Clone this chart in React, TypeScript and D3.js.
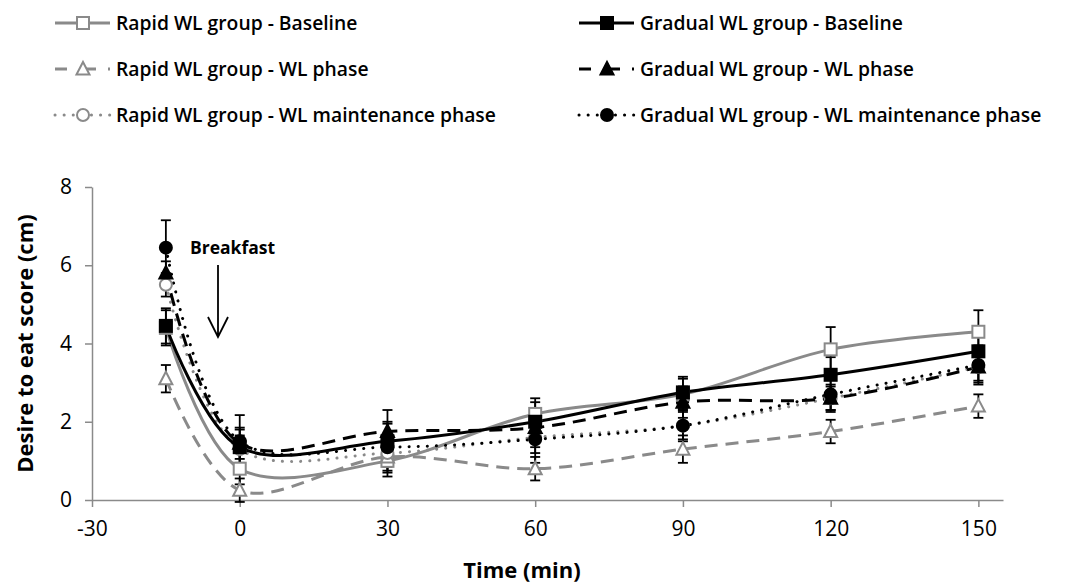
import React, { useEffect, useRef } from "react";
import * as d3 from "d3";

// time points (min)
const times = [-15, 0, 30, 60, 90, 120, 150];

// series means (cm) and SEM
const rapidBaseline = [4.4, 0.8, 1.0, 2.2, 2.7, 3.85, 4.3];
const rapidBaselineErr = [0.45, 0.4, 0.4, 0.4, 0.4, 0.57, 0.55];
const rapidWL = [3.1, 0.25, 1.1, 0.8, 1.3, 1.75, 2.4];
const rapidWLErr = [0.35, 0.3, 0.4, 0.3, 0.35, 0.3, 0.3];
const rapidMaint = [5.5, 1.3, 1.2, 1.6, 1.9, 2.6, 3.4];
const rapidMaintErr = [0.3, 0.35, 0.35, 0.4, 0.35, 0.3, 0.35];
const gradualBaseline = [4.45, 1.35, 1.5, 2.0, 2.75, 3.2, 3.8];
const gradualBaselineErr = [0.45, 0.45, 0.5, 0.5, 0.4, 0.45, 0.5];
const gradualWL = [5.8, 1.45, 1.75, 1.85, 2.5, 2.6, 3.4];
const gradualWLErr = [0.3, 0.4, 0.55, 0.5, 0.4, 0.35, 0.4];
const gradualMaint = [6.45, 1.5, 1.35, 1.55, 1.9, 2.7, 3.45];
const gradualMaintErr = [0.7, 0.67, 0.6, 0.6, 0.4, 0.4, 0.5];

const xTicks = [-30, 0, 30, 60, 90, 120, 150];
const yTicks = [0, 2, 4, 6, 8];

const GRAY = "#8a8a8a";
const FONT = "'Open Sans', sans-serif";

interface Series {
  name: string;
  values: number[];
  err: number[];
  color: string;
  dash: string;
  marker: "square" | "triangle" | "circle";
  filled: boolean;
}

const series: Series[] = [
  { name: "Rapid WL group - Baseline", values: rapidBaseline, err: rapidBaselineErr, color: GRAY, dash: "", marker: "square", filled: false },
  { name: "Rapid WL group - WL phase", values: rapidWL, err: rapidWLErr, color: GRAY, dash: "13,8", marker: "triangle", filled: false },
  { name: "Rapid WL group - WL maintenance phase", values: rapidMaint, err: rapidMaintErr, color: GRAY, dash: "0.1,9", marker: "circle", filled: false },
  { name: "Gradual WL group - Baseline", values: gradualBaseline, err: gradualBaselineErr, color: "#000", dash: "", marker: "square", filled: true },
  { name: "Gradual WL group - WL phase", values: gradualWL, err: gradualWLErr, color: "#000", dash: "13,8", marker: "triangle", filled: true },
  { name: "Gradual WL group - WL maintenance phase", values: gradualMaint, err: gradualMaintErr, color: "#000", dash: "0.1,9", marker: "circle", filled: true },
];

const width = 1067;
const height = 586;

const App: React.FC = () => {
  const ref = useRef<SVGSVGElement>(null);

  useEffect(() => {
    const svg = d3.select(ref.current);
    svg.selectAll("*").remove();

    // axis line runs a little past the 150 tick, as in the original
    const x = d3.scaleLinear().domain([-30, 155]).range([92, 1003]);
    const y = d3.scaleLinear().domain([0, 8]).range([500, 187]);

    // axes
    const gy = svg.append("g").attr("transform", `translate(${x(-30)},0)`)
      .call(d3.axisLeft(y).tickValues(yTicks).tickSize(7).tickSizeOuter(0).tickPadding(13)
        .tickFormat((d) => String(d)));
    const gx = svg.append("g").attr("transform", `translate(0,${y(0)})`)
      .call(d3.axisBottom(x).tickValues(xTicks).tickSize(7).tickSizeOuter(0).tickPadding(14)
        .tickFormat((d) => String(d)));
    [gx, gy].forEach((g) => {
      g.select(".domain").attr("stroke", GRAY).attr("stroke-width", 1.5);
      g.selectAll(".tick line").attr("stroke", GRAY).attr("stroke-width", 1.5);
      g.selectAll(".tick text").attr("font-family", FONT).attr("font-size", 21).attr("fill", "#000");
    });

    svg.append("text").attr("x", 522).attr("y", 578).attr("text-anchor", "middle")
      .attr("font-family", FONT).attr("font-weight", "bold").attr("font-size", 22).text("Time (min)");
    svg.append("text").attr("transform", `translate(33,${y(4)}) rotate(-90)`).attr("text-anchor", "middle")
      .attr("font-family", FONT).attr("font-weight", "bold").attr("font-size", 22).text("Desire to eat score (cm)");

    // lines
    const line = d3.line<number>()
      .x((_, i) => x(times[i]))
      .y((d) => y(d))
      .curve(d3.curveCatmullRom.alpha(0.5));

    series.forEach((s) => {
      svg.append("path").datum(s.values)
        .attr("fill", "none").attr("stroke", s.color).attr("stroke-width", 3)
        .attr("stroke-dasharray", s.dash || null)
        .attr("stroke-linecap", s.dash === "0.1,9" ? "round" : "butt")
        .attr("d", line);
    });

    // error bars
    series.forEach((s) => {
      s.values.forEach((v, i) => {
        const cx = x(times[i]);
        const lo = y(v - s.err[i]);
        const hi = y(v + s.err[i]);
        const g = svg.append("g").attr("stroke", "#000").attr("stroke-width", 1.8);
        g.append("line").attr("x1", cx).attr("x2", cx).attr("y1", lo).attr("y2", hi);
        g.append("line").attr("x1", cx - 5).attr("x2", cx + 5).attr("y1", lo).attr("y2", lo);
        g.append("line").attr("x1", cx - 5).attr("x2", cx + 5).attr("y1", hi).attr("y2", hi);
      });
    });

    const drawMarker = (g: d3.Selection<any, unknown, null, undefined>, s: Series, cx: number, cy: number) => {
      const fill = s.filled ? s.color : "#fff";
      if (s.marker === "square") {
        g.append("rect").attr("x", cx - 6).attr("y", cy - 6).attr("width", 12).attr("height", 12)
          .attr("fill", fill).attr("stroke", s.color).attr("stroke-width", 2);
      } else if (s.marker === "triangle") {
        g.append("path").attr("d", `M${cx},${cy - 7}L${cx + 6.5},${cy + 5.5}L${cx - 6.5},${cy + 5.5}Z`)
          .attr("fill", fill).attr("stroke", s.color).attr("stroke-width", 2);
      } else {
        g.append("circle").attr("cx", cx).attr("cy", cy).attr("r", 6)
          .attr("fill", fill).attr("stroke", s.color).attr("stroke-width", 2);
      }
    };

    // markers
    series.forEach((s) => {
      s.values.forEach((v, i) => drawMarker(svg as any, s, x(times[i]), y(v)));
    });

    // breakfast annotation
    svg.append("text").attr("x", 190).attr("y", 254).attr("font-family", FONT).attr("font-weight", "bold")
      .attr("font-size", 17.5).text("Breakfast");
    const ax = 218;
    svg.append("path").attr("d", `M${ax},265L${ax},337M${ax - 10},317L${ax},337L${ax + 10},317`)
      .attr("fill", "none").attr("stroke", "#000").attr("stroke-width", 1.8);

    // legend
    const legendPos = [
      [55, 23], [55, 69], [55, 115],
      [579, 23], [579, 69], [579, 115],
    ];
    series.forEach((s, i) => {
      const [lx, ly] = legendPos[i];
      const g = svg.append("g");
      g.append("line").attr("x1", lx).attr("x2", lx + 55).attr("y1", ly).attr("y2", ly)
        .attr("stroke", s.color).attr("stroke-width", 3)
        .attr("stroke-dasharray", s.dash === "13,8" ? "12,17,12" : s.dash || null)
        .attr("stroke-linecap", s.dash === "0.1,9" ? "round" : "butt");
      drawMarker(g, s, lx + 28, ly);
      g.append("text").attr("x", lx + 61).attr("y", ly).attr("dy", "0.36em")
        .attr("font-family", FONT).attr("font-weight", 600).attr("font-size", 19.3).text(s.name);
    });
  }, []);

  return (
    <svg ref={ref} width={width} height={height}
      style={{ position: "absolute", left: 0, top: 0, background: "#fff" }} />
  );
};

export default App;
